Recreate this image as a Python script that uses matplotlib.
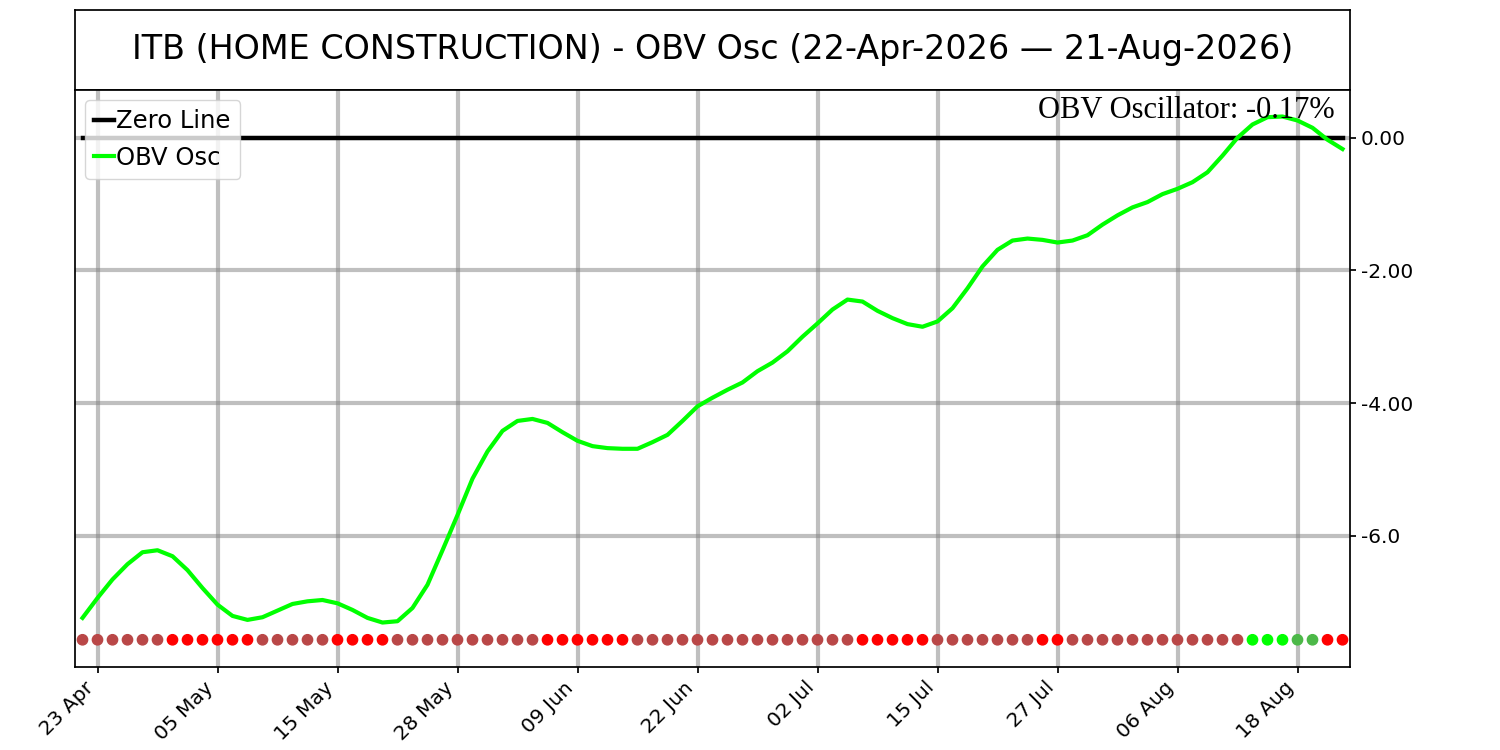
import matplotlib
matplotlib.use("Agg")
import matplotlib.pyplot as plt
import numpy as np

dates = ["22 Apr", "23 Apr", "24 Apr", "27 Apr", "28 Apr", "29 Apr", "30 Apr", "01 May", "04 May", "05 May",
         "06 May", "07 May", "08 May", "11 May", "12 May", "13 May", "14 May", "15 May", "18 May", "19 May",
         "20 May", "21 May", "22 May", "26 May", "27 May", "28 May", "29 May", "01 Jun", "02 Jun", "03 Jun",
         "04 Jun", "05 Jun", "08 Jun", "09 Jun", "10 Jun", "11 Jun", "12 Jun", "15 Jun", "16 Jun", "17 Jun",
         "18 Jun", "22 Jun", "23 Jun", "24 Jun", "25 Jun", "26 Jun", "29 Jun", "30 Jun", "01 Jul", "02 Jul",
         "06 Jul", "07 Jul", "08 Jul", "09 Jul", "10 Jul", "13 Jul", "14 Jul", "15 Jul", "16 Jul", "17 Jul",
         "20 Jul", "21 Jul", "22 Jul", "23 Jul", "24 Jul", "27 Jul", "28 Jul", "29 Jul", "30 Jul", "31 Jul",
         "03 Aug", "04 Aug", "05 Aug", "06 Aug", "07 Aug", "10 Aug", "11 Aug", "12 Aug", "13 Aug", "14 Aug",
         "17 Aug", "18 Aug", "19 Aug", "20 Aug", "21 Aug"]

obv_osc = [-7.24, -6.94, -6.66, -6.43, -6.25, -6.22, -6.31, -6.52, -6.79, -7.04,
           -7.21, -7.27, -7.23, -7.13, -7.03, -6.99, -6.97, -7.02, -7.12, -7.24,
           -7.31, -7.29, -7.09, -6.74, -6.22, -5.69, -5.14, -4.73, -4.42, -4.27,
           -4.24, -4.30, -4.44, -4.57, -4.65, -4.68, -4.69, -4.69, -4.59, -4.48,
           -4.27, -4.05, -3.92, -3.80, -3.69, -3.52, -3.39, -3.22, -3.00, -2.80,
           -2.59, -2.44, -2.47, -2.61, -2.72, -2.81, -2.85, -2.77, -2.57, -2.27,
           -1.94, -1.69, -1.55, -1.52, -1.54, -1.58, -1.55, -1.47, -1.31, -1.17,
           -1.05, -0.97, -0.85, -0.77, -0.67, -0.52, -0.27, 0.00, 0.20, 0.31,
           0.32, 0.26, 0.15, -0.03, -0.17]

# signal category per day: 'b' = weak bearish, 'r' = bearish, 'g' = bullish, 'd' = weak bullish
signals = (["b"] * 6 + ["r"] * 6 + ["b"] * 5 + ["r"] * 4 + ["b"] * 10 + ["r"] * 6 +
           ["b"] * 15 + ["r"] * 5 + ["b"] * 7 + ["r"] * 2 + ["b"] * 12 + ["g"] * 3 +
           ["d"] * 2 + ["r"] * 2)
signal_colors = {"b": "#b94747", "r": "#ff0000", "g": "#00ff00", "d": "#4cb848"}

ytick_vals = [0.0, -2.0, -4.0, -6.0]
ytick_labels = ["0.00", "-2.00", "-4.00", "-6.0"]

title = "ITB (HOME CONSTRUCTION) - OBV Osc (22-Apr-2026 \u2014 21-Aug-2026)"
last_label = "OBV Oscillator: -0.17%"

x = np.arange(len(obv_osc))

fig = plt.figure(figsize=(15, 7.5), dpi=100)
tax = fig.add_axes([0.05, 0.88, 0.85, 0.1067])
tax.set_xticks([])
tax.set_yticks([])
for sp in tax.spines.values():
    sp.set_linewidth(1.25)
tax.text(0.5, 0.5, title, ha="center", va="center", fontsize=24, transform=tax.transAxes)

ax = fig.add_axes([0.05, 0.1107, 0.85, 0.7693])
for sp in ax.spines.values():
    sp.set_linewidth(1.25)
ax.grid(True, color="gray", alpha=0.5, linewidth=3)
ax.set_axisbelow(True)
ax.plot(x, np.zeros(len(x)), color="black", linewidth=3.2, label="Zero Line")
ax.plot(x, obv_osc, color="#00ff00", linewidth=3, label="OBV Osc")
ax.scatter(x, np.full(len(x), -7.57), c=[signal_colors[s] for s in signals], s=55, zorder=3)

ax.set_xlim(-0.5, len(x) - 0.5)
ax.set_ylim(-7.98, 0.72)
tick_idx = list(range(1, len(x), 8))
ax.set_xticks(tick_idx)
ax.set_xticklabels([dates[i] for i in tick_idx], rotation=45, ha="right", fontsize=14.5)
ax.yaxis.tick_right()
ax.set_yticks(ytick_vals)
ax.set_yticklabels(ytick_labels, fontsize=14.5)
ax.tick_params(length=4.5, width=1.25)

ax.text(0.988, 0.99, last_label, transform=ax.transAxes, ha="right", va="top",
        fontsize=22, family="Liberation Serif")
ax.legend(loc="upper left", fontsize=17.5, handlelength=0.8, handletextpad=0.1,
          borderaxespad=0.4)

fig.savefig("out.png", dpi=100)
